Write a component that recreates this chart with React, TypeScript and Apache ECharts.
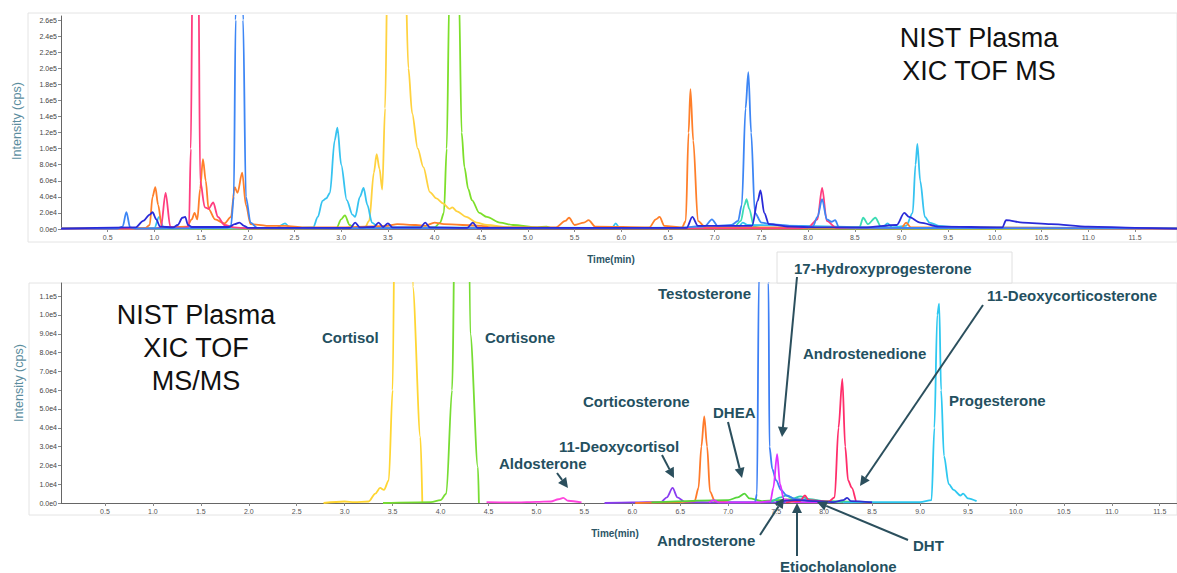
import React, { useEffect, useRef } from "react";
import * as echarts from "echarts";

type Pt = [number, number];

// ---------- tick values ----------
const timeTicks = [0.5, 1, 1.5, 2, 2.5, 3, 3.5, 4, 4.5, 5, 5.5, 6, 6.5, 7, 7.5, 8, 8.5, 9, 9.5, 10, 10.5, 11, 11.5];
const tofIntensityTicks = [0, 20000, 40000, 60000, 80000, 100000, 120000, 140000, 160000, 180000, 200000, 220000, 240000, 260000];
const msmsIntensityTicks = [0, 10000, 20000, 30000, 40000, 50000, 60000, 70000, 80000, 90000, 100000, 110000];

// ---------- TOF MS traces (time min, intensity cps) ----------
const tofBlue: Pt[] = [[0, 500], [0.6, 500], [0.66, 3000], [0.7, 21000], [0.74, 2000], [0.8, 500], [1.3, 800], [1.78, 1500], [1.82, 4000], [1.85, 40000], [1.87, 260000], [1.89, 420000], [1.93, 420000], [1.95, 260000], [1.98, 40000], [2.03, 8000], [2.1, 1500], [3.0, 1000], [5.0, 1000], [6.6, 1500], [6.9, 4000], [6.97, 12000], [7.03, 4000], [7.18, 5000], [7.25, 10000], [7.29, 30000], [7.33, 150000], [7.36, 195000], [7.39, 120000], [7.43, 20000], [7.5, 8000], [7.6, 6000], [7.8, 4000], [8.05, 3000], [8.1, 15000], [8.15, 37000], [8.2, 12000], [8.25, 9000], [8.29, 11000], [8.33, 2000], [8.5, 1500], [10, 1000], [11.95, 800]];
const tofPink: Pt[] = [[0, 300], [1.0, 500], [1.07, 2000], [1.12, 45000], [1.17, 3000], [1.3, 1000], [1.37, 3000], [1.39, 100000], [1.41, 350000], [1.47, 350000], [1.49, 60000], [1.54, 27000], [1.58, 25000], [1.63, 33000], [1.68, 15000], [1.75, 5000], [1.85, 2000], [2.0, 800], [7.9, 800], [8.0, 2000], [8.1, 12000], [8.15, 51000], [8.2, 10000], [8.3, 1500], [11.95, 500]];
const tofOrange: Pt[] = [[0, 500], [0.9, 1000], [0.95, 5000], [0.98, 40000], [1.01, 52000], [1.04, 30000], [1.08, 3000], [1.2, 2000], [1.35, 3000], [1.4, 12000], [1.43, 20000], [1.46, 12000], [1.49, 50000], [1.52, 87000], [1.55, 60000], [1.58, 25000], [1.65, 12000], [1.75, 7000], [1.82, 15000], [1.86, 52000], [1.89, 45000], [1.94, 70000], [1.98, 30000], [2.03, 6000], [2.2, 4000], [2.4, 4000], [2.6, 2000], [3.0, 2000], [3.5, 4000], [3.6, 6000], [3.8, 5000], [3.9, 4000], [4.0, 8000], [4.1, 6000], [4.5, 4000], [4.6, 2000], [5.3, 2000], [5.4, 10000], [5.44, 14000], [5.5, 5000], [5.6, 8000], [5.65, 11000], [5.72, 3000], [6.3, 2000], [6.37, 12000], [6.41, 15000], [6.46, 4000], [6.65, 2000], [6.69, 10000], [6.72, 120000], [6.74, 174000], [6.77, 110000], [6.82, 10000], [6.9, 2000], [9.0, 1500], [9.05, 8000], [9.1, 2000], [11.95, 500]];
const tofCyan: Pt[] = [[0, 500], [1.0, 1000], [1.05, 15000], [1.1, 2000], [2.3, 1000], [2.4, 7000], [2.45, 1500], [2.7, 2000], [2.75, 15000], [2.8, 35000], [2.84, 38000], [2.88, 45000], [2.93, 110000], [2.96, 126000], [3.0, 80000], [3.06, 36000], [3.12, 18000], [3.15, 15000], [3.2, 40000], [3.24, 51000], [3.28, 30000], [3.33, 8000], [3.4, 2000], [5.9, 1500], [5.94, 7000], [5.98, 1500], [7.25, 2000], [7.3, 8000], [7.35, 5000], [8.8, 2000], [8.85, 7000], [8.9, 2000], [9.05, 4000], [9.12, 20000], [9.15, 80000], [9.17, 106000], [9.2, 60000], [9.25, 15000], [9.3, 8000], [9.4, 4000], [9.6, 2000], [11.95, 500]];
const tofYellow: Pt[] = [[0, 300], [3.25, 1000], [3.3, 10000], [3.35, 70000], [3.38, 93000], [3.41, 75000], [3.44, 49000], [3.47, 150000], [3.5, 350000], [3.6, 420000], [3.68, 350000], [3.72, 200000], [3.76, 144000], [3.82, 100000], [3.88, 77000], [3.95, 46000], [4.02, 38000], [4.09, 32000], [4.16, 25000], [4.19, 27000], [4.24, 22000], [4.34, 15000], [4.45, 8000], [4.56, 5000], [4.8, 2000], [5.5, 1000], [11.95, 300]];
const tofGreen: Pt[] = [[0, 300], [2.95, 1000], [3.0, 12000], [3.04, 17000], [3.09, 5000], [3.15, 1000], [4.0, 2000], [4.06, 8000], [4.1, 20000], [4.13, 100000], [4.16, 300000], [4.21, 450000], [4.26, 300000], [4.29, 120000], [4.32, 77000], [4.36, 50000], [4.4, 36000], [4.48, 20000], [4.56, 15000], [4.7, 8000], [4.84, 5000], [5.1, 2000], [5.2, 3000], [5.25, 1000], [11.95, 300]];
const tofTeal: Pt[] = [[0, 300], [7.2, 1000], [7.28, 10000], [7.32, 30000], [7.34, 37000], [7.37, 25000], [7.42, 3000], [7.5, 1000], [8.55, 2000], [8.59, 14000], [8.64, 6000], [8.72, 14000], [8.78, 3000], [8.9, 1000], [11.95, 300]];
const tofNavy: Pt[] = [[0, 500], [0.8, 2000], [0.88, 10000], [0.95, 18000], [0.98, 21000], [1.02, 12000], [1.06, 3000], [1.2, 2000], [1.25, 5000], [1.3, 14000], [1.33, 15000], [1.36, 5000], [1.4, 2500], [1.8, 2500], [1.86, 6000], [1.91, 8000], [1.96, 4000], [2.0, 1500], [3.1, 1500], [3.15, 8000], [3.2, 2000], [3.35, 2500], [3.4, 8000], [3.45, 2500], [3.5, 7000], [3.55, 2000], [3.85, 2000], [3.9, 8000], [3.95, 2000], [4.35, 1500], [4.41, 8000], [4.46, 1500], [6.7, 1500], [6.76, 15000], [6.82, 4000], [7.4, 4000], [7.46, 35000], [7.49, 48000], [7.53, 20000], [7.58, 6000], [7.8, 3000], [8.1, 2000], [8.6, 2000], [8.95, 5000], [9.03, 20000], [9.08, 15000], [9.2, 8000], [9.4, 3000], [10.08, 2000], [10.12, 11000], [10.3, 8000], [10.6, 6000], [11.0, 3000], [11.5, 1500], [11.95, 500]];

// ---------- TOF MS/MS traces ----------
const cortisol: Pt[] = [[2.78, 0], [3.0, 800], [3.1, 500], [3.25, 800], [3.32, 5000], [3.37, 8000], [3.41, 7000], [3.46, 12000], [3.5, 60000], [3.53, 200000], [3.58, 500000], [3.68, 500000], [3.71, 115000], [3.79, 35000], [3.81, 0]];
const cortisone: Pt[] = [[3.4, 0], [3.9, 500], [4.0, 1500], [4.06, 5000], [4.12, 60000], [4.17, 250000], [4.28, 250000], [4.31, 90000], [4.39, 19000], [4.4, 0]];
const aldosterone: Pt[] = [[4.48, 500], [4.8, 300], [5.0, 600], [5.15, 800], [5.23, 2000], [5.28, 2700], [5.33, 1200], [5.47, 300]];
const deoxycortisol: Pt[] = [[5.71, 0], [6.0, 300], [6.3, 500], [6.36, 3000], [6.42, 8000], [6.47, 3000], [6.55, 500], [6.9, 300], [7.6, 300]];
const corticosterone: Pt[] = [[6.03, 0], [6.5, 500], [6.65, 1000], [6.69, 8000], [6.72, 30000], [6.75, 46000], [6.78, 30000], [6.81, 6000], [6.86, 1000], [7.0, 300]];
const dhea: Pt[] = [[6.2, 300], [7.0, 1500], [7.1, 3000], [7.17, 5000], [7.22, 2500], [7.35, 1000], [7.5, 1500], [7.7, 2000], [7.9, 1000], [8.5, 300]];
const testosterone: Pt[] = [[7.0, 300], [7.28, 500], [7.3, 5000], [7.32, 120000], [7.35, 300000], [7.4, 300000], [7.42, 117000], [7.43, 30000], [7.46, 18000], [7.5, 12000], [7.55, 7000], [7.61, 4000], [7.7, 2000], [7.9, 800]];
const ohp17: Pt[] = [[6.8, 300], [6.85, 1500], [6.9, 300], [7.3, 300], [7.44, 1000], [7.47, 8000], [7.51, 26000], [7.54, 10000], [7.58, 2000], [7.7, 500], [8.0, 300]];
const androstenedione: Pt[] = [[7.6, 300], [7.75, 1000], [7.8, 4000], [7.84, 1500], [8.05, 800], [8.11, 3000], [8.15, 40000], [8.19, 66000], [8.22, 30000], [8.25, 12000], [8.29, 8000], [8.34, 500], [8.5, 300]];
const progesterone: Pt[] = [[8.2, 300], [8.6, 500], [9.0, 500], [9.12, 1500], [9.15, 40000], [9.18, 100000], [9.2, 106000], [9.22, 60000], [9.25, 25000], [9.3, 10000], [9.35, 7000], [9.42, 4000], [9.45, 5000], [9.5, 2500], [9.59, 1000]];
const deoxycorticosterone: Pt[] = [[7.5, 500], [7.7, 1500], [7.9, 1000], [8.1, 500], [8.2, 1500], [8.24, 2700], [8.28, 1000], [8.5, 300]];
const androsteroneGroup: Pt[] = [[7.45, 500], [7.55, 3000], [7.6, 4000], [7.68, 2500], [7.75, 3500], [7.85, 2000], [8.0, 1000], [8.2, 500]];

const FONT = "'Liberation Sans', Arial, Helvetica, sans-serif";
const LABEL_COLOR = "#24505f";

const fmtSci = (v: number) => {
  if (v === 0) return "0.0e0";
  const e = Math.floor(Math.log10(v) + 1e-9);
  const m = v / Math.pow(10, e);
  return m.toFixed(1) + "e" + e;
};

const lineSeries = (data: Pt[], color: string, idx: number, width = 1.8) => ({
  type: "line",
  xAxisIndex: idx,
  yAxisIndex: idx,
  data,
  symbol: "none",
  smooth: 0.3,
  smoothMonotone: "x",
  clip: true,
  silent: true,
  lineStyle: { color, width },
  itemStyle: { color },
});

const arrow = (x1: number, y1: number, x2: number, y2: number) => {
  const dx = x2 - x1;
  const dy = y2 - y1;
  const len = Math.sqrt(dx * dx + dy * dy);
  const ux = dx / len;
  const uy = dy / len;
  const hl = 10;
  const hw = 5;
  const bx = x2 - ux * hl;
  const by = y2 - uy * hl;
  return [
    { type: "line", z: 100, shape: { x1, y1, x2: bx, y2: by }, style: { stroke: "#2b4f5d", lineWidth: 2 } },
    {
      type: "polygon",
      z: 100,
      shape: { points: [[x2, y2], [bx - uy * hw, by + ux * hw], [bx + uy * hw, by - ux * hw]] },
      style: { fill: "#2b4f5d" },
    },
  ];
};

const label = (text: string, x: number, y: number) => ({
  type: "text",
  z: 100,
  style: {
    text,
    x,
    y,
    fill: LABEL_COLOR,
    font: `bold 15px ${FONT}`,
    align: "left",
    verticalAlign: "middle",
    textAlign: "left",
    textVerticalAlign: "middle",
  },
});

export default function App() {
  const ref = useRef<HTMLDivElement>(null);

  useEffect(() => {
    if (!ref.current) return;
    const chart = echarts.init(ref.current, undefined, { renderer: "svg" });

    const xAxisCommon = (idx: number, min: number, max: number) => ({
      type: "value",
      gridIndex: idx,
      min,
      max,
      axisLine: { show: true, onZero: false, lineStyle: { color: "#666", width: 1 } },
      axisTick: { show: true, customValues: timeTicks, length: 3, lineStyle: { color: "#888" } },
      axisLabel: {
        customValues: timeTicks,
        fontSize: 7,
        fontFamily: FONT,
        color: "#555",
        margin: 5,
        formatter: (v: number) => v.toFixed(1),
      },
      splitLine: { show: false },
    });

    const yAxisCommon = (idx: number, max: number, ticks: number[]) => ({
      type: "value",
      gridIndex: idx,
      min: 0,
      max,
      axisLine: { show: true, lineStyle: { color: "#666", width: 1 } },
      axisTick: { show: true, customValues: ticks, length: 3, lineStyle: { color: "#888" } },
      axisLabel: {
        customValues: ticks,
        fontSize: 7,
        fontFamily: FONT,
        color: "#444",
        margin: 4,
        formatter: (v: number) => fmtSci(v),
      },
      splitLine: { show: false },
    });

    const option: any = {
      animation: false,
      backgroundColor: "#ffffff",
      grid: [
        { left: 61, top: 16, width: 1116, height: 213 },
        { left: 61, top: 283, width: 1116, height: 220 },
      ],
      xAxis: [xAxisCommon(0, 0, 11.95), xAxisCommon(1, 0.042, 11.68)],
      yAxis: [yAxisCommon(0, 265000, tofIntensityTicks), yAxisCommon(1, 117000, msmsIntensityTicks)],
      series: [
        lineSeries(tofTeal, "#3ddcb4", 0),
        lineSeries(tofGreen, "#7ddf2a", 0),
        lineSeries(tofYellow, "#ffd23f", 0),
        lineSeries(tofCyan, "#36c3f0", 0),
        lineSeries(tofOrange, "#ff7f2a", 0),
        lineSeries(tofPink, "#ff3d7f", 0),
        lineSeries(tofBlue, "#3d86f5", 0),
        lineSeries(tofNavy, "#2a2ad8", 0),

        lineSeries(cortisol, "#ffd633", 1),
        lineSeries(cortisone, "#77dd33", 1),
        lineSeries(aldosterone, "#ff44dd", 1),
        lineSeries(deoxycortisol, "#8a3df0", 1),
        lineSeries(corticosterone, "#ff7a2a", 1),
        lineSeries(dhea, "#55d63a", 1),
        lineSeries(androsteroneGroup, "#33ccb0", 1),
        lineSeries(testosterone, "#3d7ff5", 1),
        lineSeries(ohp17, "#dd33ff", 1),
        lineSeries(androstenedione, "#ff2d6a", 1),
        lineSeries(progesterone, "#2ec8f0", 1),
        lineSeries(deoxycorticosterone, "#3030d0", 1),
      ],
      graphic: [
        // panel frames
        { type: "rect", z: 0, shape: { x: 28, y: 13, width: 1149, height: 229 }, style: { fill: "none", stroke: "#e4e4e4", lineWidth: 1 } },
        { type: "rect", z: 0, shape: { x: 29, y: 283, width: 1148, height: 232 }, style: { fill: "none", stroke: "#e4e4e4", lineWidth: 1 } },
        { type: "rect", z: 1, shape: { x: 777, y: 252, width: 235, height: 31 }, style: { fill: "#ffffff", stroke: "#e0e0e0", lineWidth: 1 } },
        // axis titles
        {
          type: "text", z: 100, x: 17, y: 121, rotation: Math.PI / 2,
          style: { text: "Intensity (cps)", x: 0, y: 0, fill: "#5b8d9e", font: `12.5px ${FONT}`, align: "center", verticalAlign: "middle", textAlign: "center", textVerticalAlign: "middle" },
        },
        {
          type: "text", z: 100, x: 19, y: 383, rotation: Math.PI / 2,
          style: { text: "Intensity (cps)", x: 0, y: 0, fill: "#5b8d9e", font: `12.5px ${FONT}`, align: "center", verticalAlign: "middle", textAlign: "center", textVerticalAlign: "middle" },
        },
        {
          type: "text", z: 100,
          style: { text: "Time(min)", x: 611, y: 259, fill: "#2c5566", font: `bold 10px ${FONT}`, align: "center", verticalAlign: "middle", textAlign: "center", textVerticalAlign: "middle" },
        },
        {
          type: "text", z: 100,
          style: { text: "Time(min)", x: 615, y: 533, fill: "#2c5566", font: `bold 10px ${FONT}`, align: "center", verticalAlign: "middle", textAlign: "center", textVerticalAlign: "middle" },
        },
        // panel titles
        {
          type: "text", z: 100,
          style: { text: "NIST Plasma\nXIC TOF MS", x: 979, y: 21, fill: "#111", font: `27px ${FONT}`, lineHeight: 33, align: "center", verticalAlign: "top", textAlign: "center", textVerticalAlign: "top" },
        },
        {
          type: "text", z: 100,
          style: { text: "NIST Plasma\nXIC TOF\nMS/MS", x: 196, y: 298, fill: "#111", font: `27px ${FONT}`, lineHeight: 33, align: "center", verticalAlign: "top", textAlign: "center", textVerticalAlign: "top" },
        },
        // compound labels
        label("Cortisol", 322, 337),
        label("Cortisone", 485, 337),
        label("Testosterone", 658, 293),
        label("17-Hydroxyprogesterone", 794, 268),
        label("11-Deoxycorticosterone", 987, 295),
        label("Androstenedione", 803, 353),
        label("Progesterone", 949, 400),
        label("Corticosterone", 583, 401),
        label("DHEA", 713, 412),
        label("11-Deoxycortisol", 559, 446),
        label("Aldosterone", 499, 463),
        label("Androsterone", 657, 540),
        label("DHT", 913, 545),
        label("Etiocholanolone", 780, 566),
        // arrows
        ...arrow(557, 473, 568, 488),
        ...arrow(662, 455, 674, 478),
        ...arrow(728, 422, 742, 478),
        ...arrow(797, 277, 782, 437),
        ...arrow(983, 305, 860, 486),
        ...arrow(760, 535, 784, 498),
        ...arrow(797, 556, 797, 503),
        ...arrow(908, 540, 817, 502),
      ],
    };

    chart.setOption(option);
    return () => chart.dispose();
  }, []);

  return (
    <div
      ref={ref}
      style={{ position: "fixed", left: 0, top: 0, width: 1177, height: 573, background: "#fff" }}
    />
  );
}
